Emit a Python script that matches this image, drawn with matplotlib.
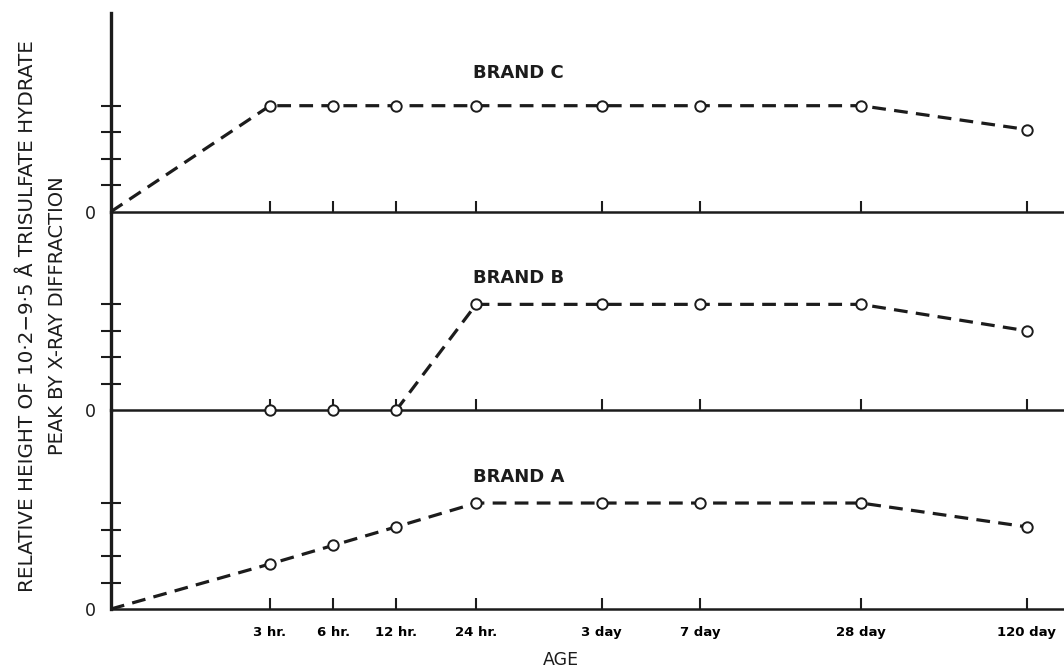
import matplotlib
matplotlib.use("Agg")
import matplotlib.pyplot as plt

# ages along the (non-uniform) time axis, position in axis units
age_labels = ["3 hr.", "6 hr.", "12 hr.", "24 hr.", "3 day", "7 day", "28 day", "120 day"]
age_pos = [3.0, 4.19, 5.38, 6.89, 9.26, 11.11, 14.15, 17.28]

# relative peak height per brand (tick units), first point is the origin
brand_c = [0, 4.0, 4.0, 4.0, 4.0, 4.0, 4.0, 4.0, 3.1]
brand_b = [0.0, 0.0, 0.0, 4.0, 4.0, 4.0, 4.0, 3.0]
brand_a = [0, 1.7, 2.4, 3.1, 4.0, 4.0, 4.0, 4.0, 3.1]

x_full = [0] + age_pos

fig, axes = plt.subplots(3, 1, sharex=True, figsize=(10.64, 6.69), dpi=100,
                         gridspec_kw={"hspace": 0})
fig.subplots_adjust(left=0.1043, right=1.0, bottom=0.0897, top=0.9806)

ink = "#1c1c1c"
line_kw = dict(color=ink, lw=2.3, dashes=(4.3, 2.6), solid_capstyle="butt",
               dash_capstyle="butt", clip_on=False, zorder=3)
mark_kw = dict(ls="none", marker="o", ms=7.5, mfc="white", mec=ink,
               mew=1.4, clip_on=False, zorder=4)

ax_c, ax_b, ax_a = axes

ax_c.plot(x_full, brand_c, **line_kw)
ax_c.plot(age_pos, brand_c[1:], **mark_kw)

ax_b.plot(age_pos[2:], brand_b[2:], **line_kw)
ax_b.plot(age_pos, brand_b, **mark_kw)

ax_a.plot(x_full, brand_a, **line_kw)
ax_a.plot(age_pos, brand_a[1:], **mark_kw)

for ax in axes:
    ax.patch.set_visible(False)
    ax.set_xlim(0, 17.98)
    ax.set_ylim(0, 7.5)
    ax.spines["top"].set_visible(False)
    ax.spines["right"].set_visible(False)
    ax.spines["left"].set_linewidth(2.4)
    ax.spines["bottom"].set_linewidth(1.8)
    ax.spines["left"].set_color(ink)
    ax.spines["bottom"].set_color(ink)
    ax.set_yticks([0])
    ax.set_yticklabels(["0"], fontsize=12.5)
    ax.set_yticks([1, 2, 3, 4], minor=True)
    ax.tick_params(axis="y", which="major", length=0, pad=11, colors=ink)
    ax.tick_params(axis="y", which="minor", direction="inout", length=14,
                   width=1.5, color=ink)
    ax.set_xticks(age_pos)
    ax.tick_params(axis="x", direction="in", length=8, width=1.5,
                   color=ink, pad=12)

ax_a.set_xticklabels(age_labels, fontsize=9.5, fontweight="bold")

ax_c.text(6.83, 5.25, "BRAND C", fontsize=13, fontweight="bold", va="center", ha="left", color=ink)
ax_b.text(6.83, 5.0, "BRAND B", fontsize=13, fontweight="bold", va="center", ha="left", color=ink)
ax_a.text(6.83, 5.0, "BRAND A", fontsize=13, fontweight="bold", va="center", ha="left", color=ink)

fig.text(0.026, 0.528, "RELATIVE HEIGHT OF 10·2−9·5 Å TRISULFATE HYDRATE",
         rotation=90, fontsize=14.3, ha="center", va="center", color=ink)
fig.text(0.054, 0.528, "PEAK BY X-RAY DIFFRACTION",
         rotation=90, fontsize=14, ha="center", va="center", color=ink)
fig.text(0.527, 0.0135, "AGE", fontsize=12.5, ha="center", va="center", color=ink)

fig.savefig("out.png", dpi=100)
